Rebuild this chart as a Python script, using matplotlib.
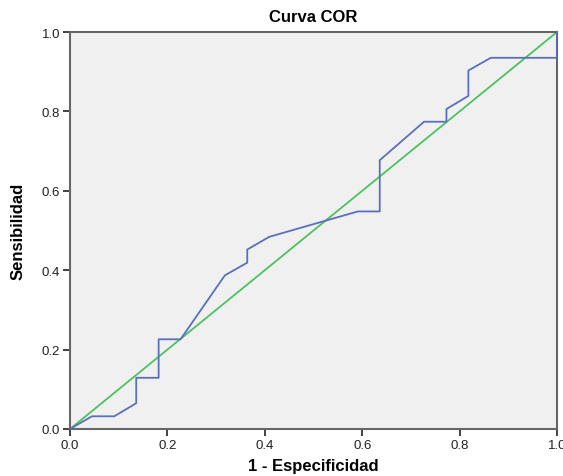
import matplotlib.pyplot as plt

plt.rcParams["font.family"] = ["Liberation Sans", "DejaVu Sans"]

# ROC points (1 - specificity, sensitivity)
fpr = [0.0, 0.045, 0.091, 0.136, 0.136, 0.182, 0.182, 0.227, 0.318, 0.364,
       0.364, 0.409, 0.591, 0.636, 0.636, 0.727, 0.773, 0.773, 0.818, 0.818,
       0.864, 1.0, 1.0]
tpr = [0.0, 0.032, 0.032, 0.065, 0.129, 0.129, 0.226, 0.226, 0.387, 0.419,
       0.452, 0.484, 0.548, 0.548, 0.677, 0.774, 0.774, 0.806, 0.839, 0.903,
       0.935, 0.935, 1.0]
ref_line = [0.0, 1.0]

fig = plt.figure(figsize=(5.63, 4.77), dpi=100)
ax = fig.add_axes([70 / 563, 47 / 477, 487 / 563, 397 / 477])
ax.set_facecolor("#f0f0f0")

ax.plot(ref_line, ref_line, color="#4cc162", linewidth=1.3, zorder=2)
ax.plot(fpr, tpr, color="#5b6fba", linewidth=1.3, zorder=3)

ax.set_xlim(0, 1)
ax.set_ylim(0, 1)
ticks = [0.0, 0.2, 0.4, 0.6, 0.8, 1.0]
ax.set_xticks(ticks)
ax.set_yticks(ticks)
ax.set_xticklabels(["0.0", "0.2", "0.4", "0.6", "0.8", "1.0"])
ax.set_yticklabels(["0.0", "0.2", "0.4", "0.6", "0.8", "1.0"])
ax.tick_params(axis="both", labelsize=9.5, colors="#222222", length=5,
               width=1.2, pad=2)

for side in ["left", "bottom", "top", "right"]:
    ax.spines[side].set_color("#666666")
    ax.spines[side].set_linewidth(1.5)

ax.set_title("Curva COR", fontsize=12, fontweight="bold", pad=8)
ax.set_xlabel("1 - Especificidad", fontsize=12, fontweight="bold",
              labelpad=5)
ax.set_ylabel("Sensibilidad", fontsize=12, fontweight="bold", labelpad=12)

fig.savefig("out.png", dpi=100)
